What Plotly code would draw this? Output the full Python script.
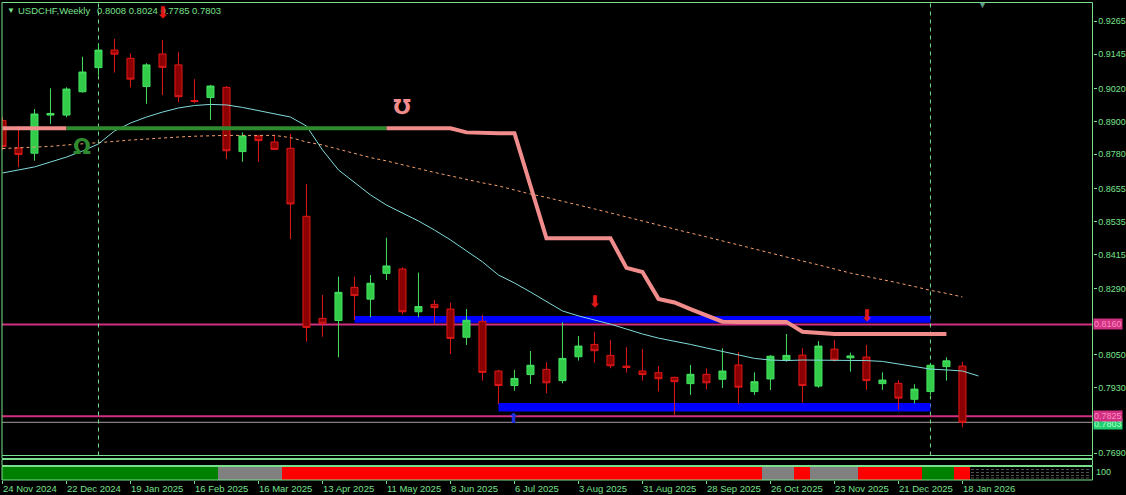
import pandas as pd
import plotly.graph_objects as go

W, H = 1126, 495
FG = '#78e08c'
FONT = 'Liberation Sans'

# weekly USDCHF candles, one per week starting 24 Nov 2024
weeks = pd.date_range('2024-11-24', periods=61, freq='7D')
open_ = [0.8903, 0.8803, 0.8784, 0.8923, 0.8923, 0.9008, 0.9096, 0.9160, 0.9130, 0.9027,
         0.9146, 0.9106, 0.8976, 0.8987, 0.9024, 0.8790, 0.8847, 0.8825, 0.8802, 0.8554,
         0.8182, 0.8174, 0.8295, 0.8252, 0.8346, 0.8362, 0.8206, 0.8233, 0.8216, 0.8113,
         0.8171, 0.7990, 0.7937, 0.7977, 0.7996, 0.7955, 0.8042, 0.8087, 0.8047, 0.8008,
         0.7990, 0.7984, 0.7967, 0.7944, 0.7978, 0.7960, 0.8012, 0.7915, 0.7961, 0.8030,
         0.8048, 0.7935, 0.8070, 0.8038, 0.8041, 0.7944, 0.7945, 0.7887, 0.7915, 0.8006,
         0.8008]
high = [0.8916, 0.8884, 0.8945, 0.9021, 0.9024, 0.9136, 0.9185, 0.9201, 0.9148, 0.9112,
        0.9197, 0.9152, 0.9054, 0.9033, 0.9029, 0.8860, 0.8851, 0.8851, 0.8854, 0.8672,
        0.8267, 0.8334, 0.8334, 0.8340, 0.8476, 0.8368, 0.8349, 0.8249, 0.8239, 0.8216,
        0.8194, 0.7994, 0.7994, 0.8063, 0.8022, 0.8168, 0.8118, 0.8133, 0.8103, 0.8077,
        0.8070, 0.8008, 0.7969, 0.8012, 0.8000, 0.8073, 0.8060, 0.7985, 0.8048, 0.8125,
        0.8073, 0.8099, 0.8103, 0.8057, 0.8085, 0.7985, 0.7957, 0.7942, 0.8020, 0.8040,
        0.8024]
low = [0.8796, 0.8733, 0.8757, 0.8891, 0.8915, 0.9005, 0.9068, 0.9078, 0.9024, 0.8964,
       0.8996, 0.8970, 0.8966, 0.8905, 0.8763, 0.8753, 0.8753, 0.8796, 0.8471, 0.8097,
       0.8115, 0.8040, 0.8176, 0.8186, 0.8322, 0.8197, 0.8186, 0.8158, 0.8052, 0.8085,
       0.7955, 0.7870, 0.7918, 0.7943, 0.7909, 0.7945, 0.8028, 0.8020, 0.8000, 0.7984,
       0.7955, 0.7915, 0.7830, 0.7903, 0.7923, 0.7928, 0.7870, 0.7903, 0.7921, 0.8024,
       0.7875, 0.7929, 0.8024, 0.7988, 0.7921, 0.7921, 0.7850, 0.7872, 0.7903, 0.7955,
       0.7785]
close = [0.8808, 0.8779, 0.8927, 0.8929, 0.9018, 0.9080, 0.9160, 0.9145, 0.9054, 0.9106,
         0.9097, 0.8990, 0.8973, 0.9029, 0.8793, 0.8847, 0.8830, 0.8798, 0.8599, 0.8149,
         0.8164, 0.8277, 0.8265, 0.8310, 0.8373, 0.8206, 0.8225, 0.8221, 0.8109, 0.8175,
         0.7985, 0.7937, 0.7963, 0.8011, 0.7947, 0.8036, 0.8081, 0.8064, 0.8009, 0.8003,
         0.7977, 0.7962, 0.7951, 0.7978, 0.7947, 0.7990, 0.7931, 0.7951, 0.8044, 0.8047,
         0.7937, 0.8081, 0.8030, 0.8045, 0.7955, 0.7957, 0.7891, 0.7924, 0.8011, 0.8027,
         0.7803]

# fast moving average (runs one week past the last bar)
ma_fast = [0.8712, 0.8723, 0.8734, 0.8752, 0.8770, 0.8792, 0.8818, 0.8865, 0.8894, 0.8916,
           0.8934, 0.8949, 0.8958, 0.8962, 0.8960, 0.8951, 0.8940, 0.8929, 0.8916, 0.8883,
           0.8796, 0.8723, 0.8676, 0.8632, 0.8595, 0.8566, 0.8537, 0.8504, 0.8468, 0.8428,
           0.8388, 0.8340, 0.8311, 0.8278, 0.8245, 0.8209, 0.8191, 0.8176, 0.8161, 0.8143,
           0.8125, 0.8110, 0.8099, 0.8087, 0.8074, 0.8061, 0.8048, 0.8036, 0.8030, 0.8028,
           0.8030, 0.8030, 0.8030, 0.8030, 0.8028, 0.8025, 0.8016, 0.8005, 0.7997, 0.7994,
           0.7990, 0.7972]
# slow moving average (dotted)
ma_slow = [0.8801, 0.8803, 0.8807, 0.8809, 0.8814, 0.8818, 0.8821, 0.8827, 0.8832, 0.8836,
           0.8841, 0.8843, 0.8846, 0.8848, 0.8849, 0.8849, 0.8849, 0.8849, 0.8841, 0.8825,
           0.8814, 0.8798, 0.8783, 0.8768, 0.8756, 0.8741, 0.8728, 0.8714, 0.8701, 0.8688,
           0.8676, 0.8665, 0.8650, 0.8635, 0.8623, 0.8610, 0.8595, 0.8581, 0.8566, 0.8552,
           0.8537, 0.8522, 0.8508, 0.8493, 0.8479, 0.8464, 0.8449, 0.8435, 0.8420, 0.8406,
           0.8391, 0.8377, 0.8362, 0.8347, 0.8335, 0.8324, 0.8311, 0.8298, 0.8284, 0.8273,
           0.8260]
# trailing stop line, weeks 0..59
stop_line = [0.8875, 0.8875, 0.8875, 0.8875, 0.8875, 0.8875, 0.8875, 0.8875, 0.8875, 0.8875,
             0.8875, 0.8875, 0.8875, 0.8875, 0.8875, 0.8875, 0.8875, 0.8875, 0.8875, 0.8875,
             0.8875, 0.8875, 0.8875, 0.8875, 0.8875, 0.8875, 0.8875, 0.8875, 0.8875, 0.8860,
             0.8857, 0.8857, 0.8857, 0.8665, 0.8474, 0.8474, 0.8474, 0.8474, 0.8474, 0.8366,
             0.8351, 0.8253, 0.8240, 0.8216, 0.8192, 0.8170, 0.8169, 0.8169, 0.8169, 0.8169,
             0.8133, 0.8129, 0.8125, 0.8125, 0.8125, 0.8125, 0.8125, 0.8125, 0.8125, 0.8125]
stop_up_from, stop_up_to = 4, 24

# trend state strip under the chart
trend = ['up'] * 14 + ['flat'] * 4 + ['down'] * 30 + ['flat'] * 2 + ['down'] + \
        ['flat'] * 3 + ['down'] * 4 + ['up'] * 2 + ['down']
trend_colors = {'up': '#008000', 'flat': '#808080', 'down': '#ff0000'}

# zones (start week, end week, low, high)
zones = [(22, 58, 0.8166, 0.8191), (31, 58, 0.7842, 0.7873)]
levels = [0.8160, 0.7825]
last_price = 0.7803
year_breaks = [6, 58]

down_arrows = [(10, 0.9297), (37, 0.8244), (54, 0.8193)]
up_arrows = [(32, 0.7820)]
signal_up = (5, 0.8807)
signal_down = (25, 0.8954)

y_ticks = [0.9265, 0.9145, 0.9020, 0.8900, 0.8780, 0.8655, 0.8535, 0.8415, 0.8290,
           0.8050, 0.7930, 0.7690]


def px(x):
    return x / W


def py(y):
    return 1 - y / H


fig = go.Figure()

fig.add_trace(go.Bar(
    x=weeks, y=[1] * len(weeks), width=7 * 86400000,
    marker=dict(color=[trend_colors[t] for t in trend], line=dict(width=0)),
    xaxis='x', yaxis='y2', hoverinfo='skip',
))

fig.add_trace(go.Scatter(
    x=weeks, y=ma_slow, mode='lines',
    line=dict(color='#f0a070', width=1, dash='3px,3px'),
))

fast_weeks = pd.date_range('2024-11-24', periods=len(ma_fast), freq='7D')
fig.add_trace(go.Scatter(
    x=fast_weeks, y=ma_fast, mode='lines',
    line=dict(color='#80dada', width=1),
))

stop_weeks = weeks[:len(stop_line)]
fig.add_trace(go.Scatter(
    x=stop_weeks[:stop_up_from + 1], y=stop_line[:stop_up_from + 1], mode='lines',
    line=dict(color='#f08c8c', width=4),
))
fig.add_trace(go.Scatter(
    x=stop_weeks[stop_up_from:stop_up_to + 1], y=stop_line[stop_up_from:stop_up_to + 1],
    mode='lines', line=dict(color='#2f8a2f', width=4),
))
fig.add_trace(go.Scatter(
    x=stop_weeks[stop_up_to:], y=stop_line[stop_up_to:], mode='lines',
    line=dict(color='#f08c8c', width=4),
))

fig.add_trace(go.Candlestick(
    x=weeks, open=open_, high=high, low=low, close=close,
    increasing=dict(line=dict(color='#44e060', width=1), fillcolor='#33cc4a'),
    decreasing=dict(line=dict(color='#e01818', width=1), fillcolor='#8b0000'),
    whiskerwidth=0,
))

shapes = []
for w0, w1, lo, hi in zones:
    shapes.append(dict(type='rect', xref='x', yref='y', x0=weeks[w0], x1=weeks[w1],
                       y0=lo, y1=hi, fillcolor='#0000ff', line=dict(width=0), layer='below'))
for lv in levels:
    shapes.append(dict(type='line', xref='paper', yref='y', x0=px(2), x1=px(1092.5),
                       y0=lv, y1=lv, line=dict(color='#d03080', width=2), layer='below'))
shapes.append(dict(type='line', xref='paper', yref='y', x0=px(2), x1=px(1092.5),
                   y0=last_price, y1=last_price, line=dict(color='#a0a0a0', width=1), layer='below'))
for wk in year_breaks:
    shapes.append(dict(type='line', xref='x', yref='paper', x0=weeks[wk], x1=weeks[wk],
                       y0=py(455.5), y1=py(2.5), line=dict(color=FG, width=1, dash='4px,4px'),
                       layer='below'))

# pane frames
for top, bottom in [(2.5, 455.5), (455.5, 458.5), (459.5, 465.5), (466.5, 480)]:
    shapes.append(dict(type='rect', xref='paper', yref='paper', x0=px(2), x1=px(1092.5),
                       y0=py(bottom), y1=py(top), line=dict(color=FG, width=1)))
for yy in [469.5, 472.5, 475.5, 478]:
    shapes.append(dict(type='line', xref='paper', yref='paper', x0=px(971), x1=px(1091),
                       y0=py(yy), y1=py(yy), line=dict(color='#505050', width=1, dash='3px,2px')))

annotations = [
    dict(xref='paper', yref='paper', x=px(5), y=py(10), text='▼', showarrow=False,
         xanchor='left', yanchor='middle', font=dict(family=FONT, size=8, color=FG)),
    dict(xref='paper', yref='paper', x=px(16), y=py(10), text='USDCHF,Weekly', showarrow=False,
         xanchor='left', yanchor='middle', font=dict(family=FONT, size=9.5, color=FG)),
    dict(xref='paper', yref='paper', x=px(95), y=py(10),
         text=' '.join(f'{v:.4f}' for v in (open_[-1], high[-1], low[-1], close[-1])),
         showarrow=False, xanchor='left', yanchor='middle',
         font=dict(family=FONT, size=9.5, color=FG)),
    dict(xref='paper', yref='paper', x=px(982), y=py(5), text='▼', showarrow=False,
         xanchor='center', yanchor='middle', font=dict(family=FONT, size=9, color='#5f9a86')),
    dict(xref='paper', yref='paper', x=px(1093), y=py(430), text=f'{last_price:.4f}',
         showarrow=False, xanchor='left', yanchor='bottom', bgcolor='#20d070', borderpad=0,
         font=dict(family=FONT, size=9, color='#b0ffc8')),
]
for lv in levels:
    annotations.append(dict(xref='paper', yref='y', x=px(1093), y=lv, text=f'{lv:.4f}',
                            showarrow=False, xanchor='left', yanchor='middle',
                            bgcolor='#d03080', borderpad=0,
                            font=dict(family=FONT, size=9, color='#ff8cc6')))
annotations.append(dict(xref='paper', yref='paper', x=px(1094), y=py(472), text='100',
                        showarrow=False, xanchor='left', yanchor='middle',
                        font=dict(family=FONT, size=9, color=FG)))
for wk, val in down_arrows:
    annotations.append(dict(x=weeks[wk], y=val, text='⬇', showarrow=False,
                            font=dict(family='DejaVu Sans', size=16, color='#e01818')))
for wk, val in up_arrows:
    annotations.append(dict(x=weeks[wk], y=val, text='⬆', showarrow=False,
                            font=dict(family='DejaVu Sans', size=14, color='#2030e0')))
annotations.append(dict(x=weeks[signal_up[0]], y=signal_up[1], text='<b>Ω</b>', showarrow=False,
                        font=dict(family='DejaVu Sans', size=21, color='#2f8a2f')))
annotations.append(dict(x=weeks[signal_down[0]], y=signal_down[1], text='<b>℧</b>', showarrow=False,
                        font=dict(family='DejaVu Sans', size=21, color='#f08c8c')))

start = weeks[0]
fig.update_layout(
    width=W, height=H,
    margin=dict(l=0, r=0, t=0, b=0),
    paper_bgcolor='black', plot_bgcolor='black',
    showlegend=False, boxgap=0.37, bargap=0,
    xaxis=dict(
        type='date', domain=[px(2), px(1092.5)], anchor='y2',
        range=[start - pd.Timedelta(hours=5), start + pd.Timedelta(days=476.9)],
        tickvals=list(weeks[::4]), tickformat='%-d %b %Y',
        ticks='outside', ticklen=3, tickcolor=FG, ticklabelposition='outside right',
        tickfont=dict(family=FONT, size=9.5, color=FG),
        showgrid=False, zeroline=False, showline=False,
        rangeslider=dict(visible=False), automargin=False,
    ),
    yaxis=dict(
        domain=[py(455.5), py(2.5)], anchor='x', side='right',
        range=[0.76820, 0.93335],
        tickvals=y_ticks, ticktext=[f'{v:.4f}' for v in y_ticks],
        ticks='outside', ticklen=3, tickcolor=FG,
        tickfont=dict(family=FONT, size=9, color=FG),
        showgrid=False, zeroline=False, showline=False, automargin=False,
    ),
    yaxis2=dict(
        domain=[py(480), py(466.5)], anchor='x', range=[0, 1], visible=False,
    ),
    shapes=shapes,
    annotations=annotations,
)

fig.write_html('out.html', config={'displayModeBar': False},
               post_script="document.body.style.margin='0';document.body.style.background='black';")
